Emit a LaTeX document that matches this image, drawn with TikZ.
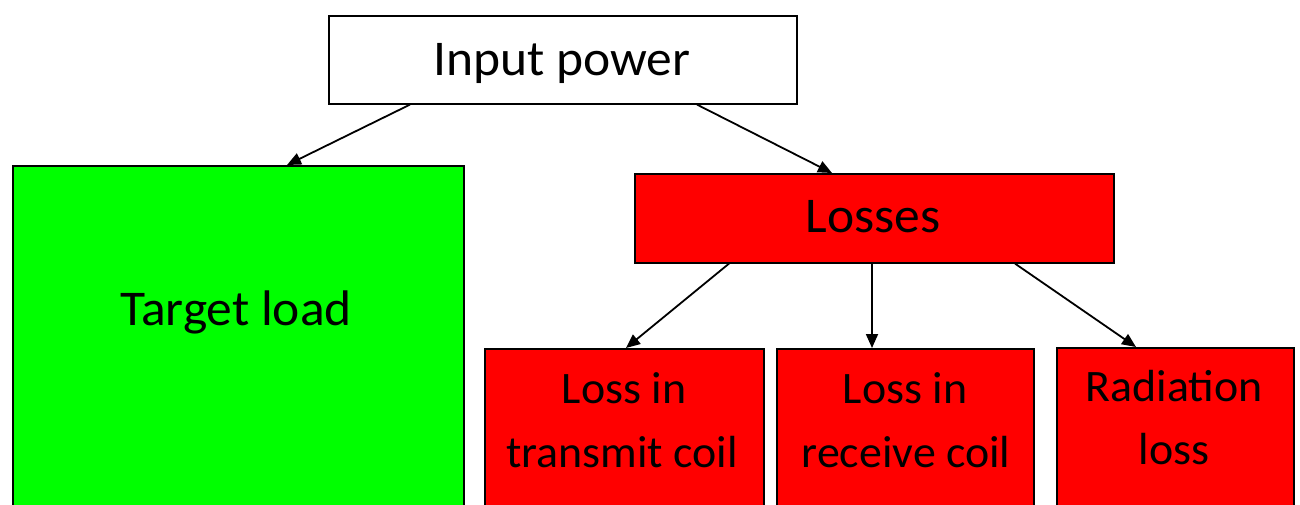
\documentclass[tikz,border=0pt]{standalone}
\usepackage{fontspec}
\setmainfont{Carlito}
\newfontfamily\bigfont[FakeStretch=1.03]{Carlito}
\newfontfamily\smallfont[FakeStretch=1.02]{Carlito}
\usetikzlibrary{arrows.meta,calc}
\definecolor{boxgreen}{RGB}{0,255,0}
\definecolor{boxred}{RGB}{255,0,0}
\begin{document}
\begin{tikzpicture}[x=1pt,y=-1pt,
  box/.style={draw=black, line width=1.6pt, anchor=north west, inner sep=0pt},
  arr/.style={line width=1.8pt, -{Triangle[length=14pt,width=12pt]}},
  big/.style={font=\bigfont\fontsize{50}{60}\selectfont, anchor=base, inner sep=0pt},
  small/.style={font=\smallfont\fontsize{45}{54}\selectfont, anchor=base, inner sep=0pt}]
\useasboundingbox (0,0) rectangle (1300,504);
\clip (0,0) rectangle (1300,504);
\fill[white] (0,0) rectangle (1300,504);
% boxes
\node[box, fill=white, minimum width=468pt, minimum height=88pt] (inp) at (328,15) {};
\node[box, fill=boxgreen, minimum width=451pt, minimum height=360pt] (tl) at (12,165) {};
\node[box, fill=boxred, minimum width=479pt, minimum height=89pt] (los) at (634,173) {};
\node[box, fill=boxred, minimum width=279pt, minimum height=180pt] (tr) at (484,348) {};
\node[box, fill=boxred, minimum width=257pt, minimum height=180pt] (rc) at (776,348) {};
\node[box, fill=boxred, minimum width=237pt, minimum height=180pt] (rd) at (1056,347) {};
% texts
\node[big] (tinp) at (562,75) {Input power};
\node[big] (ttl) at (236,325) {Target load};
\node[big] (tlos) at (873,232) {Losses};
\node[small] (ttr1) at (624,403) {Loss in};
\node[small] (ttr2) at (622,467) {transmit coil};
\node[small] (trc1) at (905,403) {Loss in};
\node[small] (trc2) at (906,467) {receive coil};
\node[small] (trd1) at (1174,401) {Radiation};
\node[small] (trd2) at (1174,464) {loss};
% arrows
\draw[arr] ($(inp.south west)+(82,0)$) -- ($(tl.north west)+(275,0)$);
\draw[arr] ($(inp.south west)+(369,0)$) -- ($(los.north west)+(198,0)$);
\draw[arr] ($(los.south west)+(95,0)$) -- ($(tr.north west)+(142,0)$);
\draw[arr] ($(los.south west)+(238,0)$) -- ($(rc.north west)+(96,0)$);
\draw[arr] ($(los.south west)+(381,0)$) -- ($(rd.north west)+(80,0)$);
\end{tikzpicture}
\end{document}
